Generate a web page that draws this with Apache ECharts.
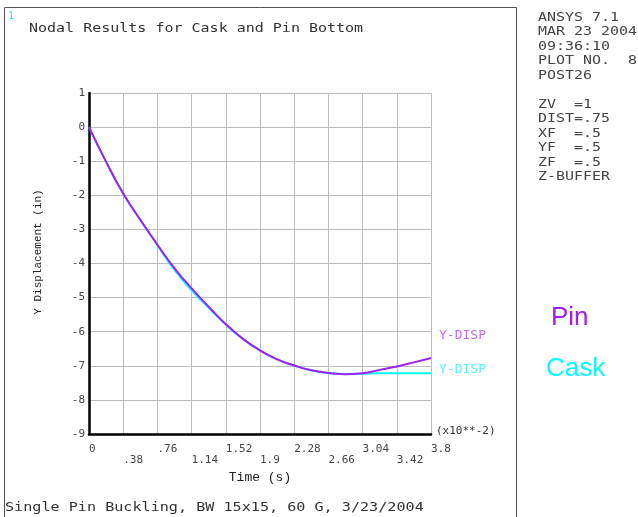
<!DOCTYPE html>
<html>
<head>
<meta charset="utf-8">
<script src="https://cdn.jsdelivr.net/npm/echarts@6/dist/echarts.min.js"></script>
<style>
  html, body { margin: 0; padding: 0; background: #ffffff; }
  #chart { width: 638px; height: 517px; }
</style>
</head>
<body>
<div id="chart"></div>
<script>
// Time in units of 1e-2 s
const time = [0, 0.19, 0.38, 0.57, 0.76, 0.95, 1.14, 1.33, 1.52, 1.71, 1.9,
              2.09, 2.28, 2.47, 2.66, 2.85, 3.04, 3.23, 3.42, 3.61, 3.8];
// Y displacement (in) of the pin bottom node
const pinDisp = [0, -1.02, -1.95, -2.72, -3.45, -4.14, -4.73, -5.27, -5.78, -6.21, -6.55,
                 -6.81, -6.99, -7.13, -7.21, -7.25, -7.22, -7.12, -7.02, -6.90, -6.77];
// Y displacement (in) of the cask bottom node
const caskDisp = [0, -1.02, -1.95, -2.72, -3.46, -4.19, -4.79, -5.30, -5.79, -6.21, -6.55,
                  -6.81, -6.99, -7.13, -7.21, -7.24, -7.23, -7.22, -7.22, -7.22, -7.22];

const xTickLabels = ['0', '.38', '.76', '1.14', '1.52', '1.9', '2.28', '2.66', '3.04', '3.42', '3.8'];
const yTickLabels = ['-9', '-8', '-7', '-6', '-5', '-4', '-3', '-2', '-1', '0', '1'];
const seriesNames = ['Pin', 'Cask'];
const curveLabel = 'Y-DISP';

const infoLines = ['ANSYS 7.1', 'MAR 23 2004', '09:36:10', 'PLOT NO.  8', 'POST26', '',
                   'ZV  =1', 'DIST=.75', 'XF  =.5', 'YF  =.5', 'ZF  =.5', 'Z-BUFFER'];
const plotTitle = 'Nodal Results for Cask and Pin Bottom';
const footerText = 'Single Pin Buckling, BW 15x15, 60 G, 3/23/2004';

const PIN_COLOR = '#a020f0';
const CASK_COLOR = '#00ffff';
const MONO = '"DejaVu Sans Mono", monospace';

const chart = echarts.init(document.getElementById('chart'), null, { renderer: 'canvas' });

const pairs = (ys) => time.map((t, i) => [t, ys[i]]);

chart.setOption({
  animation: false,
  backgroundColor: '#ffffff',
  grid: { left: 89, top: 93, right: 207, bottom: 83, containLabel: false },
  xAxis: {
    type: 'value',
    min: 0, max: 3.8, interval: 0.38,
    name: 'Time (s)',
    nameLocation: 'middle',
    nameGap: 30,
    nameTextStyle: { fontFamily: '"Liberation Mono", monospace', fontSize: 13, color: '#222', verticalAlign: 'top' },
    axisLine: { show: true, onZero: false, lineStyle: { color: '#000', width: 2.5 } },
    axisTick: { show: false },
    splitLine: { show: true, lineStyle: { color: '#bdbdbd', width: 1 } },
    axisLabel: {
      show: true, margin: 10, align: 'left', verticalAlign: 'top', lineHeight: 11,
      fontFamily: MONO, fontSize: 11, color: '#444',
      showMinLabel: true, showMaxLabel: true,
      formatter: (v) => {
        const i = Math.round(v / 0.38);
        const s = xTickLabels[i] || '';
        return i % 2 ? '\n' + s : s;
      }
    }
  },
  yAxis: {
    type: 'value',
    min: -9, max: 1, interval: 1,
    axisLine: { show: true, onZero: false, lineStyle: { color: '#000', width: 2.5 } },
    axisTick: { show: false },
    splitLine: { show: true, lineStyle: { color: '#bdbdbd', width: 1 } },
    axisLabel: {
      show: true, margin: 4, fontFamily: MONO, fontSize: 11, color: '#444',
      formatter: (v) => yTickLabels[Math.round(v) + 9] || ''
    }
  },
  series: [
    {
      name: seriesNames[1], type: 'line', data: pairs(caskDisp), smooth: 0.5,
      showSymbol: false, symbol: 'none', z: 3,
      lineStyle: { color: CASK_COLOR, width: 2 },
      endLabel: { show: true, formatter: curveLabel, offset: [0, -4],
                  fontFamily: MONO, fontSize: 13, color: '#5ef2f2' }
    },
    {
      name: seriesNames[0], type: 'line', data: pairs(pinDisp), smooth: 0.5,
      showSymbol: false, symbol: 'none', z: 4,
      lineStyle: { color: PIN_COLOR, width: 2 },
      endLabel: { show: true, formatter: curveLabel, offset: [0, -22],
                  fontFamily: MONO, fontSize: 13, color: '#bf6cf5' }
    }
  ],
  graphic: [
    { type: 'rect', shape: { x: 4.5, y: 7.5, width: 512, height: 530 },
      style: { fill: 'none', stroke: '#555', lineWidth: 1 }, silent: true },
    { type: 'text', left: 8, top: 11,
      style: { text: '1', font: '10px ' + MONO, fill: '#33e6e6' } },
    { type: 'text', x: 29, y: 29, scaleX: 1.25,
      style: { text: plotTitle, font: '12px ' + MONO, fill: '#333', align: 'left', verticalAlign: 'middle' } },
    { type: 'text', x: 5, y: 508, scaleX: 1.26,
      style: { text: footerText, font: '12px ' + MONO, fill: '#333', align: 'left', verticalAlign: 'middle' } },
    { type: 'text', x: 538, y: 10, scaleX: 1.15,
      style: { text: infoLines.join('\n'), font: '13px ' + MONO, lineHeight: 14.5, fill: '#444', align: 'left', verticalAlign: 'top' } },
    { type: 'text', x: 436, y: 431,
      style: { text: '(x10**-2)', font: '11px ' + MONO, fill: '#333', align: 'left', verticalAlign: 'middle' } },
    { type: 'text', x: 38, y: 252, rotation: Math.PI / 2,
      style: { text: 'Y Displacement (in)', font: '11px "Liberation Mono", monospace', fill: '#222', align: 'center', verticalAlign: 'middle' } },
    { type: 'text', x: 551, y: 318,
      style: { text: seriesNames[0], font: '26px "Liberation Sans", Arial, sans-serif', fill: PIN_COLOR, align: 'left', verticalAlign: 'middle' } },
    { type: 'text', x: 546, y: 369,
      style: { text: seriesNames[1], font: '26px "Liberation Sans", Arial, sans-serif', fill: CASK_COLOR, align: 'left', verticalAlign: 'middle' } }
  ]
});
</script>
</body>
</html>
